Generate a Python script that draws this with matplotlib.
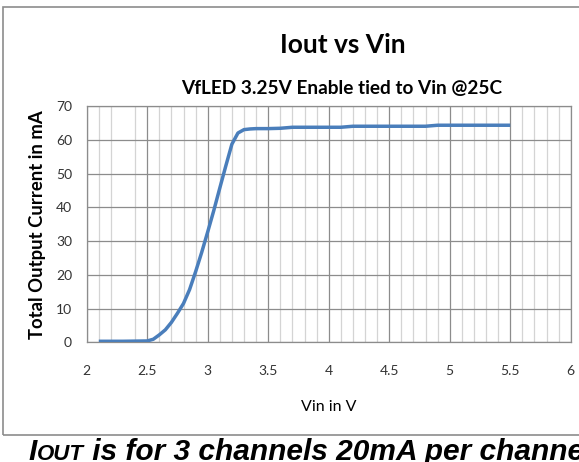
import numpy as np
import matplotlib.pyplot as plt
from matplotlib.patches import Rectangle
from matplotlib.ticker import FixedLocator

# measured supply sweep, Vin in V, total output current in mA
vin = [2.1, 2.2, 2.3, 2.4, 2.5, 2.55, 2.6, 2.65, 2.7, 2.75, 2.8, 2.85, 2.9,
       2.95, 3.0, 3.05, 3.1, 3.15, 3.2, 3.25, 3.3, 3.35, 3.4, 3.5, 3.6, 3.7,
       3.8, 3.9, 4.0, 4.1, 4.2, 4.3, 4.4, 4.5, 4.6, 4.7, 4.8, 4.9, 5.0, 5.1,
       5.2, 5.3, 5.4, 5.5]
iout = [0.3, 0.3, 0.3, 0.35, 0.4, 0.9, 2.2, 3.7, 5.9, 8.6, 11.5, 15.6, 20.9,
        26.6, 32.7, 39.0, 45.7, 52.3, 58.7, 62.0, 63.0, 63.2, 63.3, 63.3, 63.4, 63.7,
        63.7, 63.7, 63.7, 63.7, 64.0, 64.0, 64.0, 64.0, 64.0, 64.0, 64.0, 64.3, 64.3, 64.3,
        64.3, 64.3, 64.3, 64.3]

xticks = [2, 2.5, 3, 3.5, 4, 4.5, 5, 5.5, 6]
xticklabels = ['2', '2.5', '3', '3.5', '4', '4.5', '5', '5.5', '6']
yticks = [0, 10, 20, 30, 40, 50, 60, 70]

W, H = 579, 462
fig = plt.figure(figsize=(W / 100, H / 100), dpi=100)
ax = fig.add_axes([86.7 / W, 1 - 342.3 / H, 484 / W, 236.3 / H])

ax.plot(vin, iout, color='#4a7ebb', lw=2.5, solid_capstyle='butt', zorder=3)

ax.set_xlim(2, 6)
ax.set_ylim(0, 70)
ax.set_xticks(xticks)
ax.set_xticklabels(xticklabels)
ax.set_yticks(yticks)
minor = [2 + 0.1 * k for k in range(41) if k % 5 and k not in (3, 35)]
ax.xaxis.set_minor_locator(FixedLocator(minor))

ax.grid(which='major', color='#8c8c8c', lw=0.9)
ax.grid(which='minor', axis='x', color='#d4d4d4', lw=0.9)
ax.set_axisbelow(True)
for s in ax.spines.values():
    s.set_color('#8c8c8c')
    s.set_linewidth(0.9)
ax.tick_params(which='both', length=0, labelsize=10, labelcolor='#333333')
ax.tick_params(axis='y', pad=10.5)
ax.tick_params(axis='x', pad=16)
for lab in ax.get_xticklabels() + ax.get_yticklabels():
    lab.set_family('Lato')

ax.set_ylabel('Total Output Current in mA', family='Lato', fontweight='bold',
              fontsize=13.3, labelpad=7)
ax.set_xlabel('Vin in V', family='Lato', fontsize=11.5, labelpad=17)

fig.text(343 / W, 1 - 45 / H, 'Iout vs Vin', family='Lato', fontweight='bold',
         fontsize=19, ha='center', va='center')
fig.text(342 / W, 1 - 88 / H, 'VfLED 3.25V Enable tied to Vin @25C', family='Lato',
         fontweight='bold', fontsize=13.7, ha='center', va='center')

# chart border
fig.patches.append(Rectangle((3.3 / W, 1 - 435 / H), 600 / W, 428.5 / H,
                             transform=fig.transFigure, fill=False,
                             edgecolor='#8c8c8c', lw=1.2))

# footer note, "OUT" set in small caps
base = 1 - 460 / H
foot = dict(family='Liberation Sans', fontweight='bold', style='italic')
t1 = fig.text(28 / W, base, 'I', fontsize=21.5, va='baseline', **foot)
t2 = fig.text(0, 0, 'OUT', fontsize=16, va='baseline', **foot)
t3 = fig.text(0, 0, ' is for 3 channels 20mA per channel', fontsize=21.5,
              va='baseline', **foot)
fig.canvas.draw()
r = fig.canvas.get_renderer()
inv = fig.transFigure.inverted()
b1 = t1.get_window_extent(r)
t2.set_position((inv.transform((b1.x1 + 1, 0))[0], base))
fig.canvas.draw()
b2 = t2.get_window_extent(r)
t3.set_position((inv.transform((b2.x1, 0))[0], base))

fig.savefig('out.png', dpi=100)
